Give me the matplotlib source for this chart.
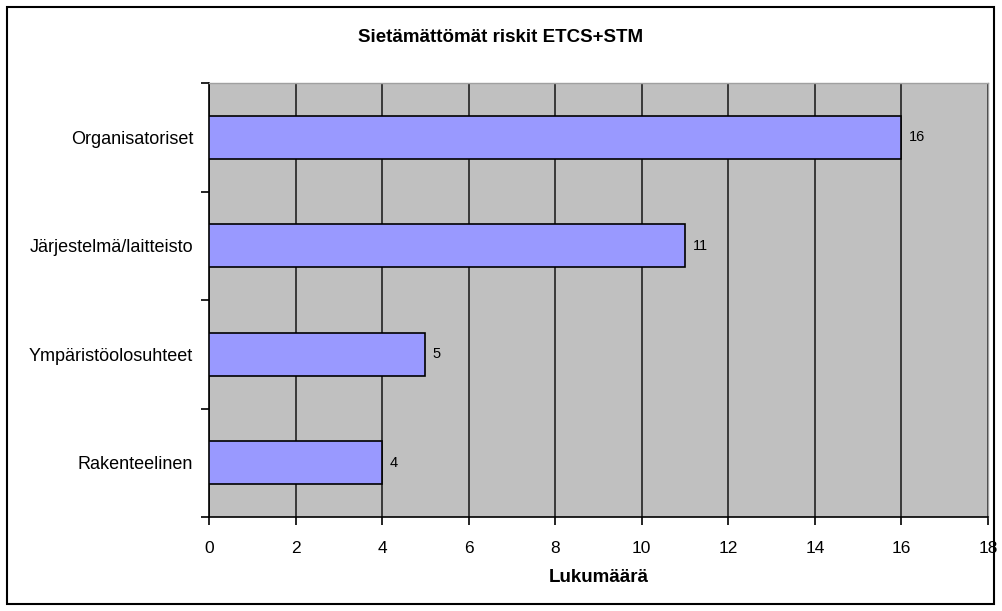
import matplotlib
matplotlib.use("Agg")
import matplotlib.pyplot as plt
from matplotlib.patches import Rectangle

# data (top to bottom as in the chart)
luokat = ["Organisatoriset", "Järjestelmä/laitteisto", "Ympäristöolosuhteet", "Rakenteelinen"]
arvot = [16, 11, 5, 4]
xtikit = [0, 2, 4, 6, 8, 10, 12, 14, 16, 18]

plt.rcParams['font.family'] = ['Liberation Sans', 'DejaVu Sans']

fig = plt.figure(figsize=(10.02, 6.11), dpi=100)
ax = fig.add_axes([209/1002, 1-517/611, 779/1002, 434/611])
ax.set_facecolor("#c0c0c0")

n = len(luokat)
ypos = [n - 1 - i for i in range(n)]
ax.barh(ypos, arvot, height=0.4, color="#9999ff", edgecolor="black", linewidth=1.2, zorder=3)
for y, v in zip(ypos, arvot):
    ax.text(v + 0.17, y, str(v), va="center", ha="left", fontsize=10.5, zorder=4)

ax.set_xlim(0, 18)
ax.set_ylim(-0.5, n - 0.5)
ax.set_xticks(xtikit)
ax.set_xticklabels([str(t) for t in xtikit], fontsize=12.5)
ax.xaxis.grid(True, color="#222222", linewidth=1.2, zorder=1)
ax.set_axisbelow(True)

# category boundaries as major ticks, names as minor labels
ax.set_yticks([i - 0.5 for i in range(n + 1)])
ax.set_yticklabels([])
ax.set_yticks(ypos, minor=True)
ax.set_yticklabels(luokat, minor=True, fontsize=13)
ax.tick_params(axis="y", which="minor", length=0, pad=11.5)
ax.tick_params(axis="y", which="major", length=6, width=1.2, direction="out")
ax.tick_params(axis="x", length=6, width=1.2, direction="out", pad=11)

for s in ["left", "bottom"]:
    ax.spines[s].set_color("black")
    ax.spines[s].set_linewidth(1.2)
for s in ["top", "right"]:
    ax.spines[s].set_color("#a0a0a0")
    ax.spines[s].set_linewidth(1.0)

ax.set_xlabel("Lukumäärä", fontsize=13.5, fontweight="bold", labelpad=10)
fig.text(0.5, 1 - 37/611, "Sietämättömät riskit ETCS+STM", ha="center", va="center",
         fontsize=13.5, fontweight="bold")

# outer frame
fig.patches.append(Rectangle((7/1002, 7/611), 987/1002, 597/611, transform=fig.transFigure,
                             fill=False, edgecolor="black", linewidth=1.5))

fig.savefig("out.png", dpi=100)
